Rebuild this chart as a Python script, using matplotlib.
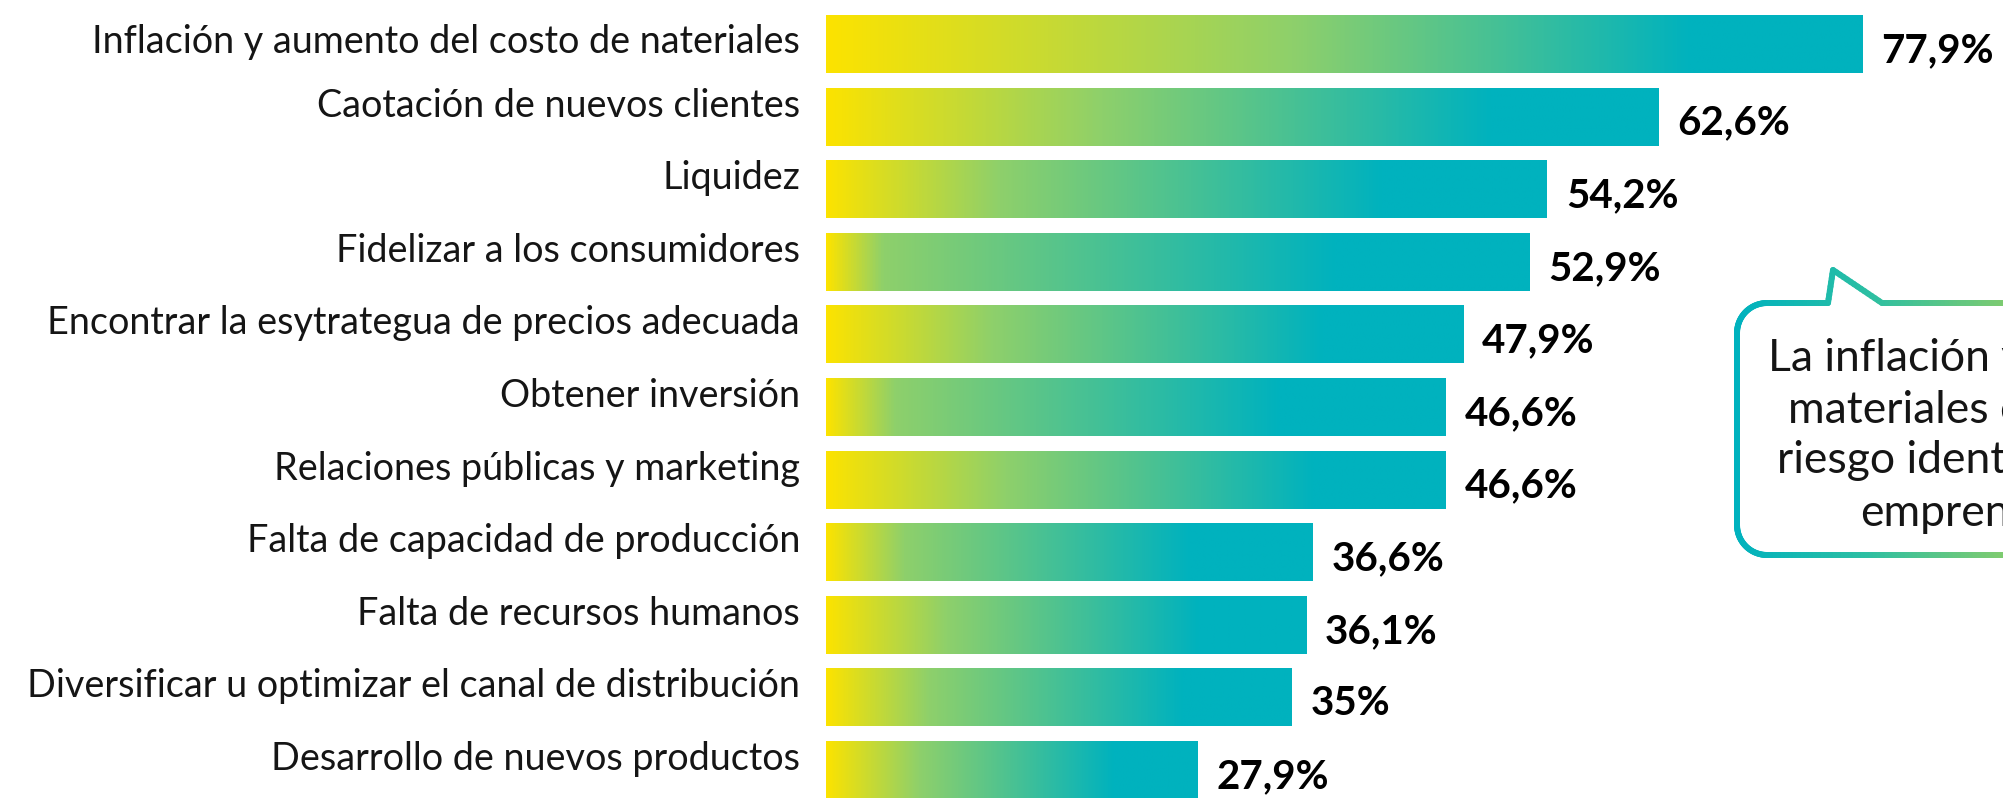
import numpy as np
import matplotlib
matplotlib.use("Agg")
import matplotlib.pyplot as plt
from matplotlib.colors import LinearSegmentedColormap
from matplotlib.collections import LineCollection

# Data
categories = [
    "Inflación y aumento del costo de nateriales",
    "Caotación de nuevos clientes",
    "Liquidez",
    "Fidelizar a los consumidores",
    "Encontrar la esytrategua de precios adecuada",
    "Obtener inversión",
    "Relaciones públicas y marketing",
    "Falta de capacidad de producción",
    "Falta de recursos humanos",
    "Diversificar u optimizar el canal de distribución",
    "Desarrollo de nuevos productos",
]
values = [77.9, 62.6, 54.2, 52.9, 47.9, 46.6, 46.6, 36.6, 36.1, 35.0, 27.9]
value_labels = ["77,9%", "62,6%", "54,2%", "52,9%", "47,9%", "46,6%",
                "46,6%", "36,6%", "36,1%", "35%", "27,9%"]

callout_lines = ["La inflación y aumento del",
                 "materiales es el principal",
                 "riesgo identificado por los",
                 "emprendedores"]

# Style
YELLOW, GREEN, TEAL = "#FCE300", "#8ED06B", "#00B2BE"
green_pos = [0.45, 0.33, 0.24, 0.08, 0.26, 0.11, 0.29, 0.16, 0.25, 0.22, 0.25]
FONT = ["Lato", "DejaVu Sans"]

W, H, dpi = 2003, 798, 100
fig = plt.figure(figsize=(W / dpi, H / dpi), dpi=dpi, facecolor="white")

# Bar axes, placed in figure pixels
px_per_unit = 13.3
pitch = 72.6
x0 = 826
ax = fig.add_axes([x0 / W, 0, 1 - x0 / W, 1], frameon=False)
ax.set_xlim(0, (W - x0) / px_per_unit)
ax.set_ylim((H - 44) / pitch, -44 / pitch)
ax.set_xticks([]), ax.set_yticks([])

ypos = np.arange(len(values))
bars = ax.barh(ypos, values, height=0.8, color="none", edgecolor="none")
grad = np.linspace(0, 1, 512).reshape(1, -1)
for bar, v, y, g in zip(bars, values, ypos, green_pos):
    t = g + 0.7 * (1 - g)
    cmap = LinearSegmentedColormap.from_list(
        "g", [(0, YELLOW), (g, GREEN), (t, TEAL), (1, TEAL)])
    im = ax.imshow(grad, cmap=cmap, aspect="auto", interpolation="bilinear",
                   extent=(0, v, y + 0.4, y - 0.4), zorder=2)
    im.set_clip_path(bar)

# Value labels
for v, y, lab in zip(values, ypos, value_labels):
    ax.text(v + 19 / px_per_unit, y + 18 / pitch, lab, ha="left",
            va="baseline", fontsize=29, fontweight="bold", family=FONT,
            color="black")

# Category labels (first one sits a little lower)
for i, lab in enumerate(categories):
    dy = 9 / pitch if i == 0 else 0
    ax.text(-26 / px_per_unit, i + dy, lab, ha="right", va="baseline",
            fontsize=27.2, family=FONT, color="#151515", clip_on=False)

# Overlay axes in pixel coordinates for the callout
ov = fig.add_axes([0, 0, 1, 1], frameon=False)
ov.set_xlim(0, W)
ov.set_ylim(H, 0)
ov.set_xticks([]), ov.set_yticks([])
ov.patch.set_alpha(0)

left, top, bottom, r = 1737, 303, 555, 30
right = 2200
pts = [(right, top), (1882, top), (1833, 270), (1828, top), (left + r, top)]
th = np.linspace(-np.pi / 2, -np.pi, 20)
pts += [(left + r + r * np.cos(a), top + r + r * np.sin(a)) for a in th]
th = np.linspace(np.pi, np.pi / 2, 20)
pts += [(left + r + r * np.cos(a), bottom - r + r * np.sin(a)) for a in th]
pts += [(right, bottom)]
# densify so the stroke colour can vary along x
dense = []
for (xa, ya), (xb, yb) in zip(pts[:-1], pts[1:]):
    n = max(2, int(np.hypot(xb - xa, yb - ya) / 4))
    for s in np.linspace(0, 1, n, endpoint=False):
        dense.append((xa + (xb - xa) * s, ya + (yb - ya) * s))
dense.append(pts[-1])
dense = np.array(dense)
segs = np.stack([dense[:-1], dense[1:]], axis=1)
xm = segs[:, :, 0].mean(axis=1)
scmap = LinearSegmentedColormap.from_list("s", [TEAL, "#2DBFA2", "#7ECB70"])
cols = scmap(np.clip((xm - left) / (W - left), 0, 1))
lc = LineCollection(segs, colors=cols, linewidths=4.3, capstyle="round",
                    joinstyle="round")
ov.add_collection(lc)

for (xt, yt), line in zip([(1768, 371), (1788, 423), (1777, 473), (1860, 526)],
                          callout_lines):
    ov.text(xt, yt, line, ha="left", va="baseline", fontsize=32,
            family=FONT, color="#151515", clip_on=True)

plt.savefig("out.png", dpi=dpi)
